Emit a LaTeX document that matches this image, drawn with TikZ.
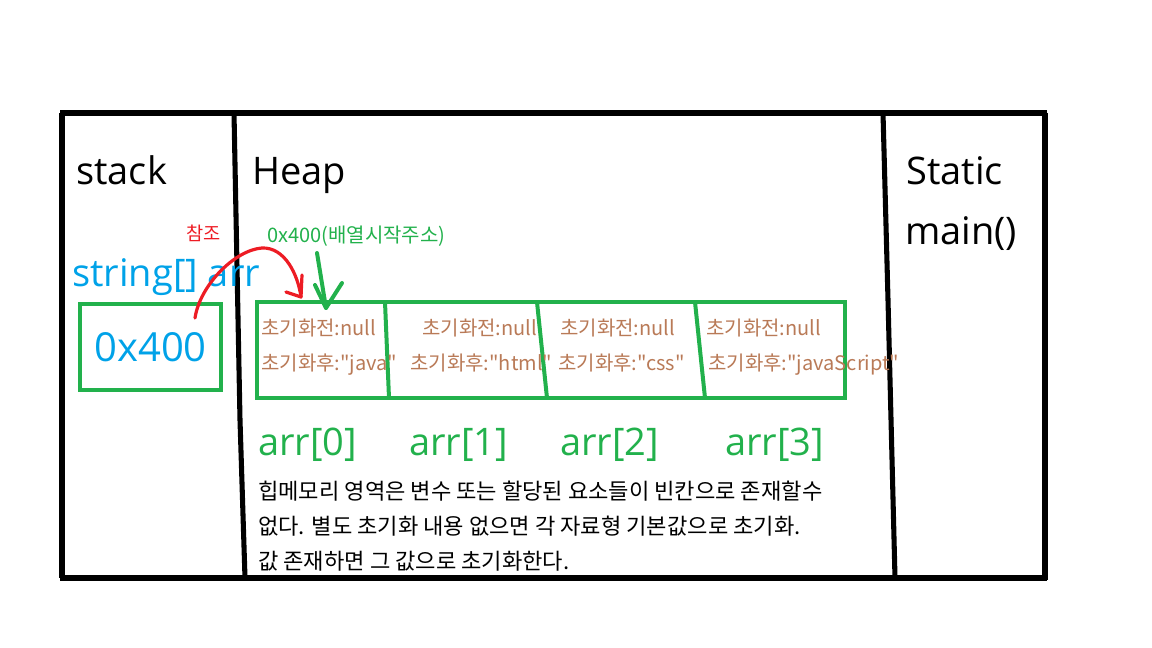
\documentclass[tikz,border=0pt]{standalone}
\usepackage{fontspec}
\setmainfont{Open Sans}
\newfontfamily\kr{Noto Sans CJK KR}
\definecolor{pgreen}{HTML}{22B14C}
\definecolor{pblue}{HTML}{00A2E8}
\definecolor{pred}{HTML}{ED1C24}
\definecolor{pbrown}{HTML}{B97A57}
\begin{document}
\begin{tikzpicture}[x=0.75pt,y=-0.75pt,
  frame/.style={line width=3.8pt,black},
  gbox/.style={line width=3pt,draw=pgreen},
  gline/.style={line width=3pt,pgreen},
  big/.style={inner sep=0pt,anchor=base west,font=\fontsize{28.5}{34}\selectfont},
  cell/.style={inner sep=0pt,anchor=base west,text=pbrown,font=\kr\fontsize{15}{18}\selectfont},
  note/.style={inner sep=0pt,anchor=base west,font=\kr\fontsize{16.6}{20}\selectfont},
  redpen/.style={line width=2.4pt,pred,line cap=round,line join=round},
  greenpen/.style={line width=3pt,pgreen,line cap=round,line join=round}]
\useasboundingbox (0,0) rectangle (1152,648);
% frame
\draw[frame] (60,113) -- (1047,113);
\draw[frame] (60,578) -- (1047,578);
\draw[frame] (62,113) -- (62,578);
\draw[frame] (1045,113) -- (1045,580);
\draw[frame] (234,113) -- (240,420) -- (245,578);
\draw[frame] (883,113) -- (888,300) -- (895,578);
% titles
\node[big] (stack) at (76,185) {stack};
\node[big] (heap) at (252,185) {Heap};
\node[big] (static) at (906,185) {Static};
\node[big] (main) at (905,245) {main()};
% stack variable
\node[inner sep=0pt,anchor=base west,text=pred,font=\kr\fontsize{14}{17}\selectfont] (ref) at (186,241) {참조};
\node[big,text=pblue] (var) at (72,287) {string[] arr};
\node[gbox,minimum width=105.75pt,minimum height=64.5pt,inner sep=0pt,
  text=pblue,font=\fontsize{30}{36}\selectfont] (ptrbox) at (150.5,347) {\raisebox{-2pt}{0x400}};
% array
\node[inner sep=0pt,anchor=base west,text=pgreen,font=\kr\fontsize{15}{18}\selectfont] (addr) at (267,243) {0x400(배열시작주소)};
\node[gbox,minimum width=441pt,minimum height=72pt,inner sep=0pt] (arrbox) at (551,350) {};
\draw[gline] (385,302) -- (389,398);
\draw[gline] (537,302) -- (547,398);
\draw[gline] (695,302) -- (705,398);
\node[cell] (c0a) at (261,335) {초기화전:null};
\node[cell] (c0b) at (261,370) {초기화후:"java"};
\node[cell] (c1a) at (422,335) {초기화전:null};
\node[cell] (c1b) at (410,370) {초기화후:"html"};
\node[cell] (c2a) at (560,335) {초기화전:null};
\node[cell] (c2b) at (558,370) {초기화후:"css"};
\node[cell] (c3a) at (706,335) {초기화전:null};
\node[cell] (c3b) at (708,370) {초기화후:"javaScript"};
\node[big,text=pgreen] (a0) at (258,455) {arr[0]};
\node[big,text=pgreen] (a1) at (409,455) {arr[1]};
\node[big,text=pgreen] (a2) at (560,455) {arr[2]};
\node[big,text=pgreen] (a3) at (725,455) {arr[3]};
\node[note] (n1) at (258,499) {힙메모리 영역은 변수 또는 할당된 요소들이 빈칸으로 존재할수};
\node[note] (n2) at (258,534) {없다. 별도 초기화 내용 없으면 각 자료형 기본값으로 초기화.};
\node[note] (n3) at (258,569) {값 존재하면 그 값으로 초기화한다.};
% red reference arrow (from the pointer box to the array box)
\coordinate (refstart) at (195,318);
\coordinate (reftip) at (301,297);
\draw[redpen] (refstart) .. controls (200,285) and (235,250) .. (262,248)
  .. controls (285,247) and (298,275) .. (reftip);
\draw[redpen] (302,275) -- (reftip) -- (286,292);
% green address arrow (from the label to the array box)
\coordinate (gstart) at (317,253);
\coordinate (gtip) at (326,308);
\draw[greenpen] (gstart) -- (gtip);
\draw[greenpen] (315,285) -- (gtip) -- (342,283);
\end{tikzpicture}
\end{document}
